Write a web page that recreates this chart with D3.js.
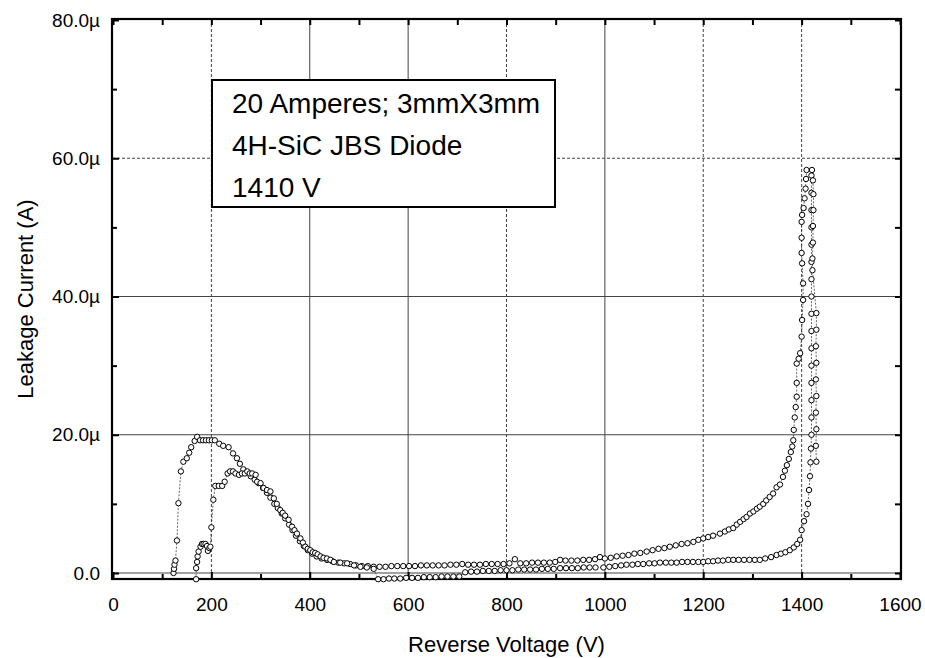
<!DOCTYPE html>
<html lang="en">
<head>
    <meta charset="UTF-8">
    <title>4H-SiC JBS Diode Leakage Current</title>
    <script src="https://d3js.org/d3.v7.min.js"></script>
    <style>
        body {
            margin: 0;
            background: #fff;
            font-family: "Liberation Sans", Arial, sans-serif;
        }
        .grid { stroke: #444; stroke-width: 1; }
        .trace { fill: none; stroke: #222; stroke-width: 0.7; stroke-dasharray: 2,1.5; }
        .pt { fill: #fff; stroke: #000; stroke-width: 1; }
        .tick text { font-size: 19px; fill: #000; }
        .tick line { stroke: #000; stroke-width: 2; }
    </style>
</head>
<body>
<svg width="925" height="658"></svg>
<script>
    // voltage (V), leakage current (uA)
    const sweepA = [
        [123,0],[124,0.6],[125,1.2],[127,1.8],[130,4.7],[133,10.1],[138,14.7],[143,16.1],[150,16.6],[155,17.4],
        [159,18.2],[166,19.1],[171,19.7],[177,19.2],[183,19.2],[189,19.2],[195,19.2],[201,19.2],[207,19.2],[216,18.7],
        [224,18.4],[235,18.2],[244,17.3],[252,16.6],[258,15.8],[265,15.0],[272,14.6],[280,14.0],[288,13.5],[296,13.0],
        [305,12.3],[313,11.6],[320,10.9],[328,10.0],[335,9.4],[343,8.6],[350,7.9],[358,7.0],[365,6.2],[372,5.4],
        [380,4.6],[388,3.9],[396,3.3],[405,2.8],[414,2.4],[424,2.1],[435,1.9],[446,1.7],[458,1.5],[470,1.4],
        [482,1.3],[494,1.1],[506,1.0],[518,1.0],[530,0.9],[542,0.9],[554,0.9],[566,1.0],[578,1.0],[590,1.0],
        [602,1.0],[614,1.0],[626,1.1],[638,1.1],[650,1.1],[662,1.1],[674,1.1],[686,1.2],[698,1.2],[710,1.3],
        [722,1.2],[734,1.2],[746,1.2],[758,1.3],[770,1.3],[782,1.3],[794,1.3],[806,1.4],[817,2.0],[828,1.4],
        [840,1.4],[852,1.5],[864,1.5],[876,1.5],[888,1.5],[899,1.6],[909,1.9],[920,1.8],[932,1.8],[944,1.8],
        [956,1.9],[968,1.9],[980,2.0],[990,2.3],[1000,2.1],[1012,2.2],[1024,2.4],[1036,2.5],[1048,2.6],[1060,2.8],
        [1072,2.9],[1085,3.1],[1097,3.3],[1109,3.5],[1121,3.6],[1132,3.8],[1144,4.0],[1156,4.2],[1168,4.3],[1180,4.5],
        [1190,4.8],[1200,5.0],[1210,5.2],[1220,5.4],[1234,5.7],[1244,6.0],[1252,6.3],[1261,6.5],[1268,7.0],[1275,7.4],
        [1282,7.8],[1288,8.1],[1295,8.6],[1302,8.9],[1309,9.3],[1315,9.6],[1322,10.0],[1328,10.5],[1335,11.0],[1342,11.5],
        [1349,12.4],[1356,12.8],[1362,13.9],[1366,14.8],[1370,15.6],[1374,16.5],[1378,17.5],[1381,18.3],[1383,19.2],[1384,20.7],
        [1386,22.5],[1388,24.0],[1390,25.5],[1390,27.5],[1390,30.3],[1394,31.0],[1397,31.8],[1400,34.2],[1401,36.6],[1403,39.5],
        [1403,41.9],[1401,44.8],[1400,46.3],[1400,48.5],[1400,50.8],[1401,51.8],[1404,52.8],[1406,54.2],[1408,55.6],[1409,57.0],
        [1410,58.3]
    ];

    const sweepB = [
        [169,-0.9],[169,0.7],[171,1.6],[172,2.4],[174,3.1],[178,3.8],[181,4.2],[184,4.2],[188,4.2],[191,3.9],
        [193,3.2],[196,3.6],[198,3.8],[200,6.6],[204,10.6],[208,12.6],[215,12.6],[222,12.6],[227,13.2],[233,14.4],
        [238,14.7],[244,14.7],[249,14.4],[256,14.2],[262,14.4],[268,14.4],[273,14.7],[278,14.4],[283,14.4],[290,14.2],
        [293,13.2],[300,13.0],[306,12.3],[313,12.0],[320,11.8],[327,10.8],[333,10.0],[340,9.1],[345,8.7],[350,8.3],
        [357,7.7],[364,6.7],[369,6.2],[374,5.7],[381,5.0],[386,4.4],[391,3.8],[396,3.5],[401,3.3],[406,3.0],
        [411,2.9],[416,2.7],[422,2.4],[428,2.2],[435,2.1],[442,1.9],[449,1.6],[462,1.5],[476,1.4],[490,1.1],
        [503,0.9],[516,0.8],[530,0.6],[539,-0.9],[550,-0.9],[561,-0.8],[572,-0.8],[584,-0.8],[596,-0.7],[608,-0.7],
        [620,-0.7],[632,-0.6],[644,-0.6],[656,-0.6],[668,-0.5],[680,-0.5],[692,-0.5],[704,-0.5],[716,0.1],[728,0.2],
        [740,0.2],[752,0.3],[764,0.3],[776,0.3],[788,0.4],[800,0.4],[812,0.4],[824,0.5],[836,0.5],[848,0.5],
        [860,0.5],[872,0.6],[884,0.6],[896,0.6],[909,0.7],[921,0.7],[933,0.7],[945,0.7],[957,0.8],[969,0.8],
        [981,0.8],[997,0.8],[1009,0.9],[1021,1.0],[1033,1.1],[1044,1.2],[1056,1.2],[1067,1.3],[1078,1.3],[1090,1.4],
        [1101,1.4],[1112,1.5],[1124,1.5],[1135,1.5],[1146,1.5],[1157,1.6],[1168,1.6],[1179,1.6],[1190,1.6],[1200,1.6],
        [1210,1.7],[1220,1.7],[1230,1.8],[1240,1.8],[1251,1.9],[1261,1.9],[1272,1.9],[1283,1.9],[1294,1.9],[1305,1.9],
        [1315,1.9],[1326,2.1],[1338,2.3],[1349,2.6],[1358,2.8],[1367,3.0],[1376,3.3],[1384,3.7],[1391,4.2],[1397,4.8],
        [1400,6.2],[1405,7.5],[1410,8.5],[1413,10.0],[1415,12.0],[1417,14.0],[1418,16.0],[1419,18.0],[1420,20.0],[1420,22.5],
        [1420,25.0],[1420,27.5],[1420,30.0],[1420,32.5],[1420,35.0],[1420,37.5],[1420,40.0],[1420,42.5],[1420,45.0],[1420,47.5],
        [1420,50.0],[1420,52.5],[1420,55.0],[1420,57.5],[1421,58.3],[1423,56.8],[1424,54.8],[1424,52.5],[1423,50.2],[1423,47.8],
        [1422,45.5],[1422,43.8],[1430,37.6],[1430,35.2],[1429,32.8],[1430,30.4],[1429,28.0],[1430,25.6],[1429,23.2],[1430,20.8],
        [1429,18.4],[1430,16.1]
    ];

    const xMajor = [0, 200, 400, 600, 800, 1000, 1200, 1400, 1600];
    const xMinor = [100, 300, 500, 700, 900, 1100, 1300, 1500];
    const yMajor = [0, 20, 40, 60, 80];
    const yMinor = [10, 30, 50, 70];
    const yTickLabels = ["0.0", "20.0\u00b5", "40.0\u00b5", "60.0\u00b5", "80.0\u00b5"];
    // grid lines: which ones look dashed in the scan
    const xGrid = [200, 400, 600, 800, 1000, 1200, 1400];
    const xGridDashed = [200, 800, 1200, 1400];
    const yGrid = [0, 20, 40, 60];
    const yGridDashed = [60];
    const noteLines = ["20 Amperes; 3mmX3mm", "4H-SiC JBS Diode", "1410 V"];

    const svg = d3.select("svg");
    const frameL = 112, frameR = 901, frameT = 19, frameB = 579;

    const x = d3.scaleLinear().domain([0, 1600]).range([113, 900]);
    const y = d3.scaleLinear().domain([0, 80]).range([573, 20]);

    // grid
    svg.append("g").selectAll("line").data(xGrid).join("line")
        .attr("class", "grid")
        .attr("x1", d => x(d)).attr("x2", d => x(d))
        .attr("y1", frameT).attr("y2", frameB)
        .attr("stroke-dasharray", d => xGridDashed.includes(d) ? "3,2" : null);
    svg.append("g").selectAll("line").data(yGrid).join("line")
        .attr("class", "grid")
        .attr("x1", frameL).attr("x2", frameR)
        .attr("y1", d => y(d)).attr("y2", d => y(d))
        .attr("stroke-dasharray", d => yGridDashed.includes(d) ? "3,2" : null);

    // axes, ticks inside the frame
    svg.append("g").attr("transform", `translate(0,${frameB})`)
        .call(d3.axisBottom(x).tickValues(xMajor).tickSize(-7).tickPadding(19).tickFormat(d3.format("d")));
    svg.append("g").attr("transform", `translate(0,${frameB})`)
        .call(d3.axisBottom(x).tickValues(xMinor).tickSize(-5).tickFormat(""));
    svg.append("g").attr("transform", `translate(0,${frameT})`)
        .call(d3.axisTop(x).tickValues(xMajor.concat(xMinor)).tickSize(-6).tickFormat(""));

    svg.append("g").attr("transform", `translate(${frameL},0)`)
        .call(d3.axisLeft(y).tickValues(yMajor).tickSize(-7).tickPadding(12)
            .tickFormat((d, i) => yTickLabels[i]));
    svg.append("g").attr("transform", `translate(${frameL},0)`)
        .call(d3.axisLeft(y).tickValues(yMinor).tickSize(-5).tickFormat(""));
    svg.append("g").attr("transform", `translate(${frameR},0)`)
        .call(d3.axisRight(y).tickValues(yMajor.concat(yMinor)).tickSize(-6).tickFormat(""));

    svg.selectAll(".domain").remove();

    // frame
    svg.append("rect")
        .attr("x", frameL).attr("y", frameT)
        .attr("width", frameR - frameL).attr("height", frameB - frameT)
        .attr("fill", "none").attr("stroke", "#000").attr("stroke-width", 2.2);

    // traces
    const line = d3.line().x(d => x(d[0])).y(d => y(d[1]));
    [sweepA, sweepB].forEach(s => {
        svg.append("path").datum(s).attr("class", "trace").attr("d", line);
        svg.append("g").selectAll("circle").data(s).join("circle")
            .attr("class", "pt")
            .attr("cx", d => x(d[0]))
            .attr("cy", d => y(d[1]))
            .attr("r", 2.7);
    });

    // note box
    const note = svg.append("g");
    note.append("rect")
        .attr("x", 212).attr("y", 80)
        .attr("width", 343).attr("height", 127)
        .attr("fill", "#fff").attr("stroke", "#000").attr("stroke-width", 2);
    note.selectAll("text").data(noteLines).join("text")
        .attr("x", 232)
        .attr("y", (d, i) => 113 + i * 42)
        .attr("font-size", 28)
        .text(d => d);

    // axis titles
    svg.append("text")
        .attr("x", (frameL + frameR) / 2).attr("y", 652)
        .attr("text-anchor", "middle")
        .attr("font-size", 22)
        .text("Reverse Voltage (V)");
    svg.append("text")
        .attr("transform", `translate(33,${(frameT + frameB) / 2}) rotate(-90)`)
        .attr("text-anchor", "middle")
        .attr("font-size", 22)
        .text("Leakage Current (A)");
</script>
</body>
</html>
